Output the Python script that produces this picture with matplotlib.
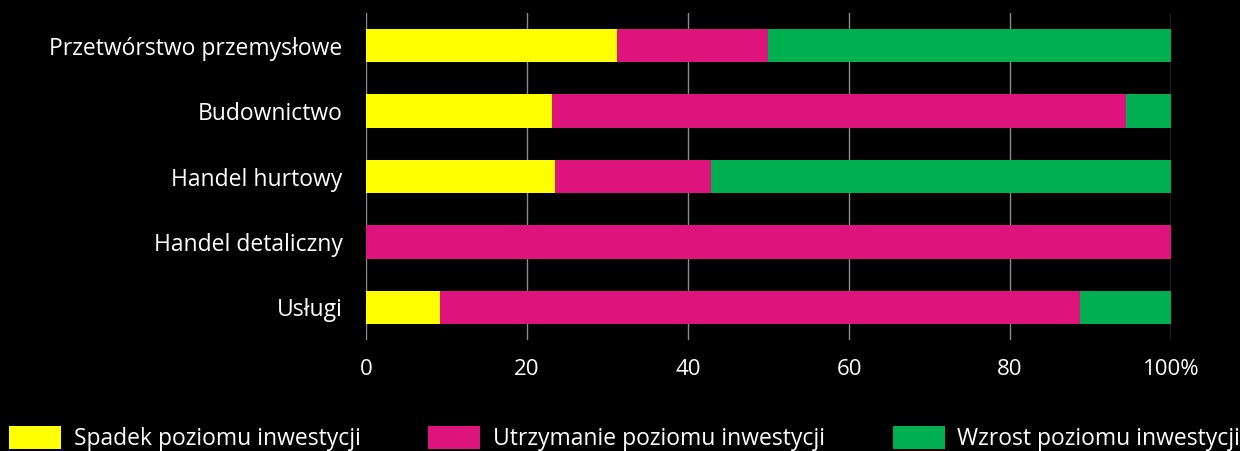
import matplotlib
matplotlib.use("Agg")
import matplotlib.pyplot as plt
from matplotlib.patches import Patch

categories = ["Przetwórstwo przemysłowe", "Budownictwo", "Handel hurtowy", "Handel detaliczny", "Usługi"]
spadek = [31.2, 23.1, 23.5, 0.0, 9.2]
utrzymanie = [18.7, 71.3, 19.3, 100.0, 79.5]
wzrost = [50.1, 5.6, 57.2, 0.0, 11.3]
series_names = ["Spadek poziomu inwestycji", "Utrzymanie poziomu inwestycji", "Wzrost poziomu inwestycji"]
colors = ["#ffff00", "#de147d", "#00af50"]
xticks = [0, 20, 40, 60, 80, 100]
xticklabels = ["0", "20", "40", "60", "80", "100%"]

FONT = "Open Sans"
fig = plt.figure(figsize=(12.4, 4.51), dpi=100, facecolor="black")
ax = fig.add_axes([366/1240, 1 - 340/451, (1171-366)/1240, (340-13)/451])
ax.set_facecolor("black")

y = list(range(len(categories)))
left = [0.0]*len(categories)
for vals, c in zip([spadek, utrzymanie, wzrost], colors):
    ax.barh(y, vals, left=left, height=0.51, color=c, zorder=3)
    left = [l + v for l, v in zip(left, vals)]

ax.set_xlim(0, 100)
ax.set_ylim(4.5, -0.5)
ax.set_yticks(y)
ax.set_yticklabels(categories, fontsize=16.5, color="white", family=FONT)
ax.set_xticks(xticks)
ax.set_xticklabels(xticklabels, fontsize=16, color="white", family=FONT)
ax.tick_params(axis="y", length=0, pad=17)
ax.tick_params(axis="x", length=0, pad=14)
ax.grid(axis="x", color="#8a8a8a", linewidth=1, zorder=0)
for s in ax.spines.values():
    s.set_visible(False)

handles = [Patch(facecolor=c) for c in colors]
fs = 16.5
fig.legend(handles, series_names, loc="lower left", bbox_to_anchor=(9/1240, 0.0, (1240-9)/1240, 0.065),
           ncol=3, mode="expand", frameon=False, handlelength=2.27, handleheight=1.18,
           handletextpad=0.55,
           prop={"family": FONT, "size": fs},
           labelcolor="white", borderaxespad=0, borderpad=0)

fig.savefig("out.png", dpi=100, facecolor="black")
